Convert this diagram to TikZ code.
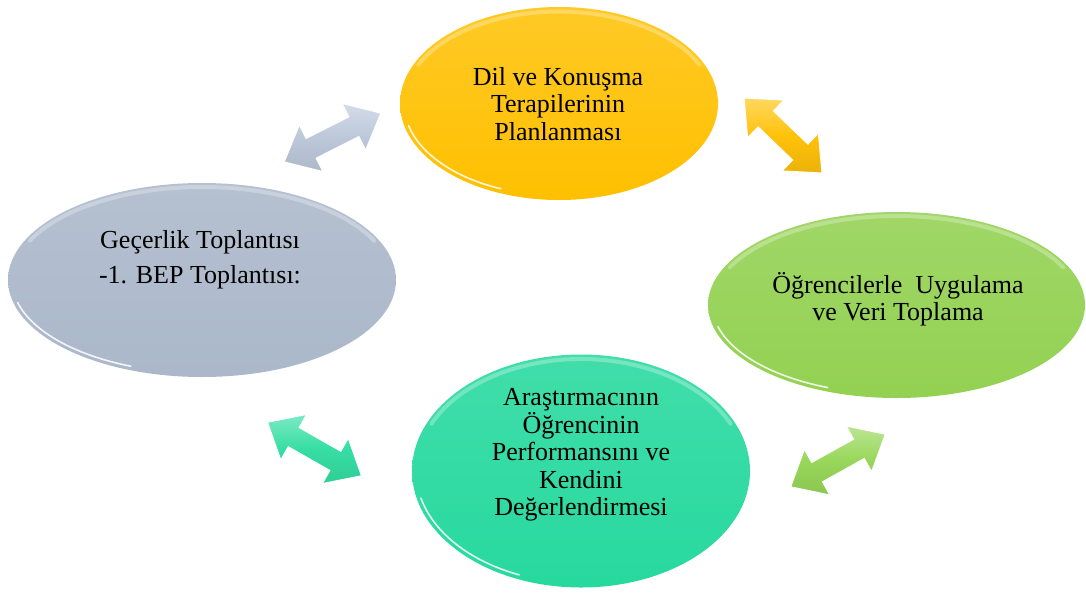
\documentclass[tikz,border=0pt]{standalone}
\usepackage{fontspec}
\setmainfont{Liberation Serif}
\usetikzlibrary{shapes.geometric}

\definecolor{goldfill}{HTML}{FFC000}
\definecolor{slatefill}{HTML}{ABB8CA}
\definecolor{limefill}{HTML}{93D152}
\definecolor{mintfill}{HTML}{27D99E}
\definecolor{slatearrow}{HTML}{BCC8DA}
\definecolor{goldarrow}{HTML}{FFC20A}
\definecolor{mintarrow}{HTML}{36DEA4}
\definecolor{limearrow}{HTML}{98D75A}

\tikzset{
  bubble/.style={ellipse, inner sep=0pt, draw=none},
  caption/.style={align=center, font=\fontsize{26}{27.5}\selectfont, inner sep=0pt, text=black},
  rimtop/.style={white, opacity=.28, line width=4pt, line cap=round},
  rimlow/.style={white, opacity=.85, line width=1.6pt, line cap=round},
}

% glossy rim on a bubble: name, inset x radius, inset y radius
\newcommand{\bubblerim}[3]{%
  \draw[rimtop] (#1.center) ++(205:#2 and #3) arc[start angle=205, end angle=335, x radius=#2, y radius=#3];
  \draw[rimlow] (#1.center) ++(112:#2 and #3) arc[start angle=112, end angle=166, x radius=#2, y radius=#3];
}

% bevelled two-headed block arrow: centre x, centre y, angle, colour
\newcommand{\blockarrow}[4]{%
  \begin{scope}[shift={(#1,#2)}, rotate=#3]
    \path[top color=#4!65!white, bottom color=#4!92!black, middle color=#4,
          draw=white, line width=.9pt, line join=miter]
      (-54,0) -- (-24,-26) -- (-24,-11) -- (24,-11) -- (24,-26) -- (54,0)
      -- (24,26) -- (24,11) -- (-24,11) -- (-24,26) -- cycle;
  \end{scope}}

\begin{document}
\begin{tikzpicture}[x=1pt, y=-1pt]
  \path[use as bounding box] (0,0) rectangle (1086,592);

  % the four stages
  \node[bubble, minimum width=318pt, minimum height=193pt,
        top color=goldfill!85!white, bottom color=goldfill] (dil) at (559,103.5) {};
  \node[bubble, minimum width=388pt, minimum height=194pt,
        top color=slatefill!88!white, bottom color=slatefill] (gec) at (202,280) {};
  \node[bubble, minimum width=377pt, minimum height=186pt,
        top color=limefill!88!white, bottom color=limefill] (ogr) at (896.5,305) {};
  \node[bubble, minimum width=338pt, minimum height=233pt,
        top color=mintfill!88!white, bottom color=mintfill] (ara) at (581,471) {};

  \bubblerim{dil}{155}{92}
  \bubblerim{gec}{190}{93}
  \bubblerim{ogr}{184}{89}
  \bubblerim{ara}{165}{112}

  % captions
  \node[caption] (dilt) at (558,104) {Dil ve Konuşma\\Terapilerinin\\Planlanması};
  \node[caption] (gect) at (200,260) {Geçerlik Toplantısı\\[7.5pt] -1. BEP Toplantısı:};
  \node[caption] (ogrt) at (898,299) {Öğrencilerle\ \ Uygulama\\ve Veri Toplama};
  \node[caption] (arat) at (581,455) {Araştırmacının\\Öğrencinin\\Performansını ve\\Kendini\\Değerlendirmesi};

  % links between neighbouring stages
  \blockarrow{332.5}{137.5}{26.8}{slatearrow}
  \blockarrow{783}{135.5}{-43.9}{goldarrow}
  \blockarrow{314.5}{449}{-29.7}{mintarrow}
  \blockarrow{838}{460.5}{29.1}{limearrow}
\end{tikzpicture}
\end{document}
